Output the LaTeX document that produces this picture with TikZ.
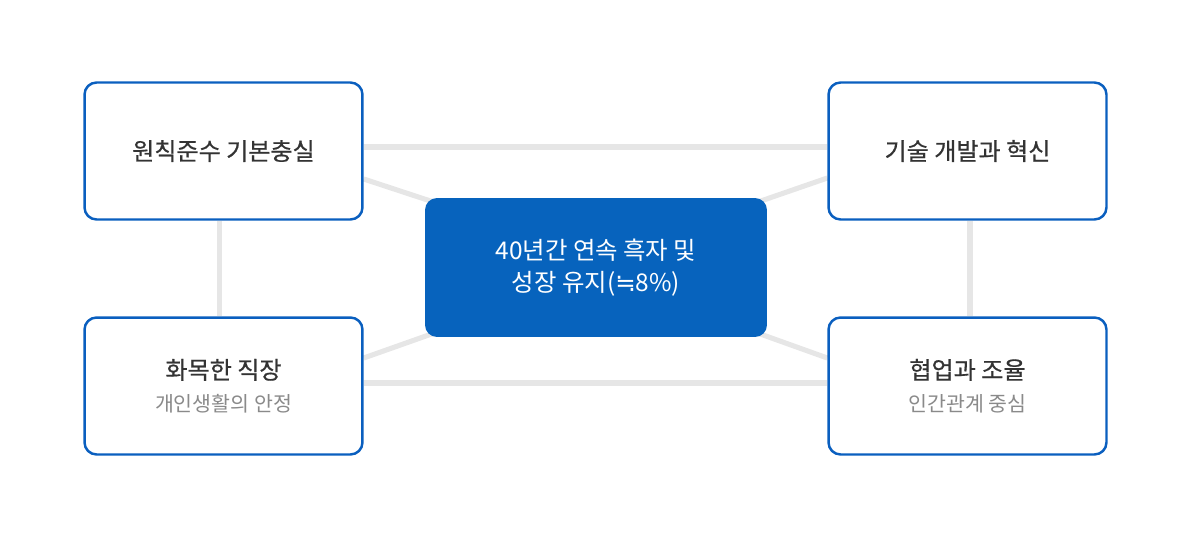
\documentclass[tikz,border=0pt]{standalone}
\usepackage{fontspec}
\setmainfont{Noto Sans CJK KR}
\newfontfamily\titlefont{Noto Sans CJK KR}[FakeBold=0.6]
\newfontfamily\symbolfont{DejaVu Sans}
\usepackage{xcolor}
\usepackage{tikz}
\usetikzlibrary{positioning, calc, backgrounds}

\definecolor{cardblue}{HTML}{0A5FBF}
\definecolor{hubblue}{HTML}{0763BD}
\definecolor{linkgray}{HTML}{E6E6E6}
\definecolor{textdark}{HTML}{333333}
\definecolor{textgray}{HTML}{8A8A8A}

\begin{document}
\begin{tikzpicture}[x=0.02cm, y=-0.02cm,
  card/.style={draw=cardblue, line width=1.4pt, fill=white, rounded corners=0.24cm,
    minimum width=5.56cm, minimum height=2.74cm, inner sep=0pt, align=center,
    text=textdark, font=\titlefont\fontsize{13.7}{18.5}\selectfont},
  hub/.style={fill=hubblue, rounded corners=0.24cm, minimum width=6.84cm,
    minimum height=2.78cm, inner sep=0pt, align=center, text=white,
    font=\fontsize{13.9}{18}\selectfont},
  link/.style={draw=linkgray, line width=2.9pt}]
  \useasboundingbox (0,0) rectangle (1200,535);

  % Positions of the five boxes
  \coordinate (P) at (223.5,151);
  \coordinate (T) at (967.5,151);
  \coordinate (H) at (223.5,386);
  \coordinate (C) at (967.5,386);
  \coordinate (M) at (596,267.5);

  % Centre box
  \node[hub] (growth) at (M) {40년간 연속 흑자 및\\성장 유지({\symbolfont ≒}8\%)};

  % Outer boxes
  \node[card] (basics) at (P) {원칙준수 기본충실};
  \node[card] (tech) at (T) {기술 개발과 혁신};
  \node[card] (harmony) at (H) {화목한 직장\\{\normalfont\fontsize{11.7}{18.5}\selectfont\color{textgray}개인생활의 안정}};
  \node[card] (coop) at (C) {협업과 조율\\{\normalfont\fontsize{11.7}{18.5}\selectfont\color{textgray}인간관계 중심}};

  % Links behind the boxes
  \begin{scope}[on background layer]
    \draw[link] ($(basics.east)+(0,-4)$) -- ($(tech.west)+(0,-4)$);
    \draw[link] ($(harmony.east)+(0,-3)$) -- ($(coop.west)+(0,-3)$);
    \draw[link] ($(basics.south)+(-4,0)$) -- ($(harmony.north)+(-4,0)$);
    \draw[link] ($(tech.south)+(2.5,0)$) -- ($(coop.north)+(2.5,0)$);
    \draw[link] ($(basics.east)+(0,28)$) -- ($(growth.north west)+(20,8)$);
    \draw[link] ($(tech.west)+(0,27)$) -- ($(growth.north east)+(-20,8)$);
    \draw[link] ($(harmony.east)+(0,-28)$) -- ($(growth.south west)+(20,-8)$);
    \draw[link] ($(coop.west)+(0,-28)$) -- ($(growth.south east)+(-20,-8)$);
  \end{scope}
\end{tikzpicture}
\end{document}
